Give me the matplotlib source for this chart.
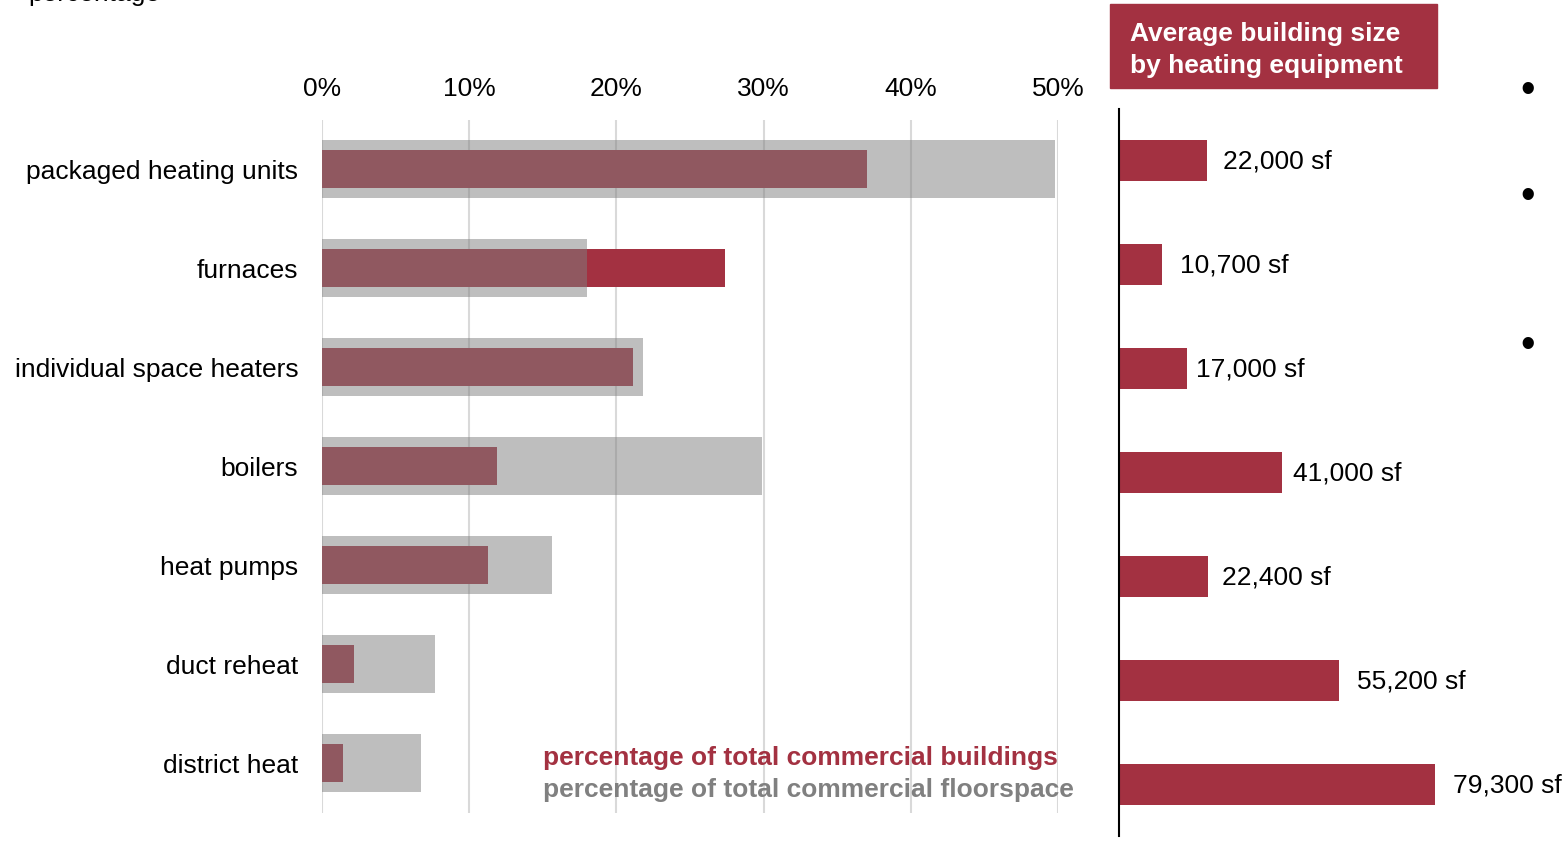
import numpy as np
import matplotlib.pyplot as plt
from matplotlib.patches import Rectangle

plt.rcParams['font.family'] = ['Liberation Sans', 'DejaVu Sans']

# data
categories = ['packaged heating units', 'furnaces', 'individual space heaters',
              'boilers', 'heat pumps', 'duct reheat', 'district heat']
pct_buildings = [37.0, 27.4, 21.1, 11.9, 11.3, 2.2, 1.4]
pct_floorspace = [49.8, 18.0, 21.8, 29.9, 15.6, 7.7, 6.7]
avg_size_sf = [22000, 10700, 17000, 41000, 22400, 55200, 79300]
pct_ticks = [0, 10, 20, 30, 40, 50]

RED = '#A33141'
W, H = 1565, 845
fs = 19
label_gap = [12, 13, 7, 8, 10, 13, 13]  # points between bar end and its label

fig = plt.figure(figsize=(W / 100, H / 100), dpi=100)

# left panel: shares of buildings / floorspace
ax = fig.add_axes([322 / W, 1 - 813.5 / H, 736 / W, 693 / H])
y = np.arange(len(categories))
ax.barh(y, pct_buildings, height=0.39, color=RED, zorder=2)
ax.barh(y, pct_floorspace, height=0.58, color='#7F7F7F', alpha=0.5, zorder=3)
ax.set_xlim(0, 50)
ax.set_ylim(len(categories) - 0.5, -0.5)
ax.set_xticks(pct_ticks)
ax.set_xticklabels([f'{t}%' for t in pct_ticks])
ax.xaxis.tick_top()
ax.set_yticks(y)
ax.set_yticklabels(categories)
ax.tick_params(axis='both', length=0, labelsize=fs)
ax.tick_params(axis='x', pad=14)
ax.tick_params(axis='y', pad=17)
ax.grid(axis='x', color='#D9D9D9', lw=1.5, zorder=0)
ax.set_axisbelow(True)
for s in ax.spines.values():
    s.set_visible(False)

fig.text(543 / W, 1 - 758 / H, 'percentage of total commercial buildings', color=RED,
         fontsize=fs, fontweight='bold', va='center')
fig.text(543 / W, 1 - 790 / H, 'percentage of total commercial floorspace', color='#808080',
         fontsize=fs, fontweight='bold', va='center')

# right panel: average building size
ax2 = fig.add_axes([1119 / W, 1 - 837 / H, 396 / W, 727 / H])
ax2.barh(y, avg_size_sf, height=0.395, color=RED)
ax2.set_xlim(0, 99500)
ax2.set_ylim(len(categories) - 0.5, -0.5)
ax2.set_xticks([])
ax2.set_yticks([])
for k, s in ax2.spines.items():
    s.set_visible(k == 'left')
ax2.spines['left'].set_linewidth(1.5)
for yi, v, g in zip(y, avg_size_sf, label_gap):
    ax2.annotate(f'{v:,} sf', (v, yi), xytext=(g, 0), textcoords='offset points',
                 va='center', fontsize=fs, annotation_clip=False)

# title box
fig.patches.append(Rectangle((1110 / W, 1 - 89 / H), 327 / W, 84 / H,
                             transform=fig.transFigure, color=RED))
fig.text(1130 / W, 1 - 50 / H, 'Average building size\nby heating equipment',
         color='white', fontsize=fs, fontweight='bold', va='center', linespacing=1.4)

# cropped bits at the edges
fig.text(28 / W, 1 - 1.5 / H, 'percentage', fontsize=fs, va='baseline')
for by in [91, 197, 346]:
    fig.text(1528 / W, 1 - by / H, '\u2022', fontsize=30, ha='center', va='center')

fig.savefig('out.png', dpi=100)
